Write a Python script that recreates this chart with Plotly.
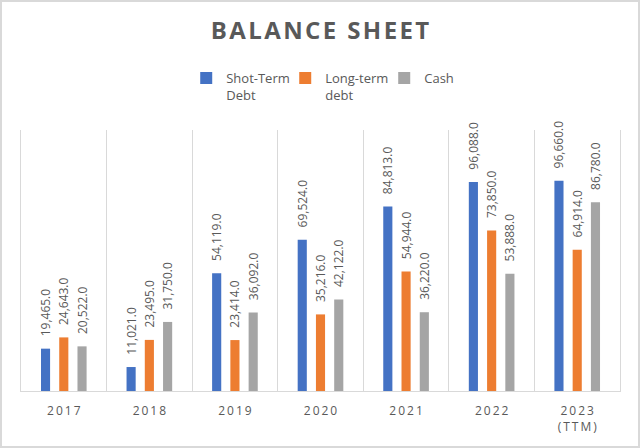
import plotly.graph_objects as go

categories = ["2017", "2018", "2019", "2020", "2021", "2022", "2023<br>(TTM)"]
short_term_debt = [19465, 11021, 54119, 69524, 84813, 96088, 96660]
long_term_debt = [24643, 23495, 23414, 35216, 54944, 73850, 64914]
cash = [20522, 31750, 36092, 42122, 36220, 53888, 86780]

series_names = ["Shot-Term<br>Debt", "Long-term<br>debt", "Cash"]
series_colors = ["#4472C4", "#ED7D31", "#A5A5A5"]
TXT = "#595959"
title_text = "BALANCE SHEET"

def spaced(s, sep="\u2009"):
    return "<br>".join(sep.join(list(part)) for part in s.split("<br>"))

W, H = 640, 448
L, R, T, B = 21, 20, 130, 57
pw, ph = W - L - R, H - T - B

fig = go.Figure()
for name, vals, col in zip(series_names, [short_term_debt, long_term_debt, cash], series_colors):
    fig.add_trace(go.Bar(
        x=categories, y=vals, name=name, marker_color=col, marker_line_width=0,
        text=["\u00a0\u00a0\u00a0" + f"{v:,.1f}" for v in vals],
        textposition="outside", textangle=-90, constraintext="none", cliponaxis=False,
        textfont=dict(family="Open Sans", size=12, color=TXT),
    ))

fig.update_layout(
    width=W, height=H,
    margin=dict(l=L, r=R, t=T, b=B),
    paper_bgcolor="white", plot_bgcolor="white",
    barmode="group", bargap=0.36, bargroupgap=0.5,
    title=dict(text="<b>" + spaced(title_text, "\u200a") + "</b>", x=0.5, xanchor="center",
               y=1 - 31 / H, yanchor="middle", yref="container",
               font=dict(family="Open Sans", size=24, color=TXT)),
    legend=dict(orientation="h", x=0.523, xanchor="center", xref="container", y=1 - 63 / H, yanchor="top",
                yref="container", font=dict(family="Open Sans", size=13, color=TXT), itemwidth=30,
                traceorder="normal", valign="top", entrywidth=54, entrywidthmode="pixels"),
    font=dict(family="Open Sans", color=TXT),
    showlegend=True,
)
fig.update_xaxes(
    tickmode="array", tickvals=categories, ticktext=[spaced(c) for c in categories],
    tickson="boundaries", showgrid=True, gridcolor="#D9D9D9", gridwidth=1,
    showline=True, linecolor="#D9D9D9", linewidth=1, ticks="", ticklabelstandoff=9,
    tickfont=dict(family="Open Sans", size=12, color=TXT),
)
fig.update_yaxes(range=[0, 120000], showgrid=False, showticklabels=False, zeroline=False,
                 showline=True, mirror=True, linecolor="#D9D9D9", linewidth=1)

fig.add_shape(type="rect", xref="paper", yref="paper",
              x0=(1 - L) / pw, x1=(W - 1 - L) / pw, y0=-(H - 1 - T - ph) / ph, y1=1 + (T - 1) / ph,
              line=dict(color="#D9D9D9", width=2), fillcolor="rgba(0,0,0,0)", layer="below")

fig.write_html("out.html", config={"displayModeBar": False},
               post_script="document.body.style.margin='0';document.body.style.overflow='hidden';")
